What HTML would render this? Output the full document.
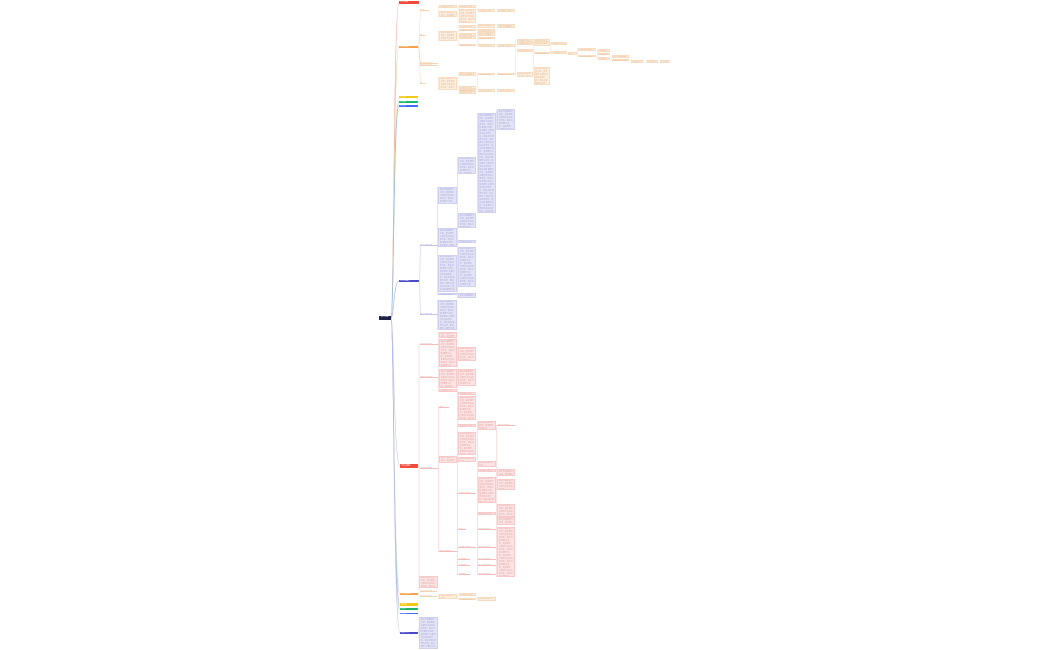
<!DOCTYPE html>
<html><head><meta charset="utf-8">
<style>
html,body{margin:0;padding:0;background:#fff;}
body{width:1050px;height:650px;position:relative;overflow:hidden;}
.b{position:absolute;overflow:hidden;font:2px/3px "Liberation Sans","Noto Sans CJK SC",sans-serif;padding:0.3px 0.6px;box-sizing:border-box;word-break:break-all;}
.o{background:#fdefe0;color:#dcb995;border:0.3px solid #f7dcc2;}
.p{background:#fde4e4;color:#e0a8a8;border:0.3px solid #f7c9c9;}
.l{background:#e4e4f7;color:#a9a9d8;border:0.3px solid #cfcff0;}
.to{color:#d8b896;border-bottom:0.5px solid #f6d3b0;background:none;}
.tp{color:#dca4a4;border-bottom:0.5px solid #f5baba;background:none;}
.tl{color:#a9a9d8;border-bottom:0.5px solid #c3c3ee;background:none;}
.n{position:absolute;font:2px/2px "Liberation Sans","Noto Sans CJK SC",sans-serif;color:#fff;overflow:hidden;box-sizing:border-box;padding:0.3px 1px;border-radius:0.5px;}
svg{position:absolute;left:0;top:0;}
</style></head><body>
<svg width="1050" height="650" viewBox="0 0 1050 650" fill="none" stroke-width="0.6">
<g>
<path d="M391,318 C394,318 393.5,2.5 399,2.5" stroke="#f3a59d"/>
<path d="M391,318 C394,318 393.5,46.8 399,46.8" stroke="#f6c99c"/>
<path d="M391,318 C394,318 393.5,97 399,97" stroke="#ecd97a"/>
<path d="M391,318 C394,318 393.5,101.7 399,101.7" stroke="#86d4ab"/>
<path d="M391,318 C394,318 393.5,106 399,106" stroke="#9fb6f3"/>
<path d="M391,318 C394,318 393.5,281 399,281" stroke="#a9a9e6"/>
<path d="M391,318 C394,318 393.5,466 400,466" stroke="#c9c9c9"/>
<path d="M391,318 C394,318 393.5,594 400,594" stroke="#c9c9c9"/>
<path d="M391,318 C394,318 393.5,604.5 400,604.5" stroke="#d0d0d0"/>
<path d="M391,318 C394,318 393.5,609 400,609" stroke="#a8d8bd"/>
<path d="M391,318 C394,318 393.5,613.6 400,613.6" stroke="#b0c4f4"/>
<path d="M391,318 C394,318 393.5,633 400,633" stroke="#b4b4e8"/>
</g>
<g stroke="#f8d8b8" stroke-width="0.5">
<path d="M418,46.8 C420,46.8 419.5,10 421,10.5"/>
<path d="M418,46.8 C420,46.8 419.5,35 421,35.5"/>
<path d="M418,46.8 C420,46.8 419.5,63 421,63.5"/>
<path d="M418,46.8 C420,46.8 419.5,65 421,65.5"/>
<path d="M418,46.8 C420,46.8 419.5,83 421,83.5"/>
<line x1="438.3" y1="6" x2="438.3" y2="17"/>
<line x1="438.3" y1="31" x2="438.3" y2="41"/>
<line x1="438.3" y1="77" x2="438.3" y2="90"/>
<line x1="458" y1="6" x2="458" y2="23"/>
<line x1="458" y1="25" x2="458" y2="45"/>
<line x1="458" y1="72" x2="458" y2="92"/>
<line x1="477.2" y1="9" x2="477.2" y2="11"/>
<line x1="477.2" y1="24" x2="477.2" y2="45"/>
<line x1="477.2" y1="73" x2="477.2" y2="90"/>
<line x1="515.8" y1="40" x2="515.8" y2="75"/>
<line x1="533.2" y1="40" x2="533.2" y2="76"/>
<line x1="550.5" y1="43" x2="550.5" y2="53"/>
<line x1="577.5" y1="49" x2="577.5" y2="56"/>
<line x1="597.2" y1="50" x2="597.2" y2="59"/>
<line x1="611.2" y1="57" x2="611.2" y2="60"/>
<line x1="495.5" y1="45" x2="516" y2="45"/>
<line x1="629.5" y1="60.5" x2="631" y2="60.5"/>
</g>
<g stroke="#c4c4ee" stroke-width="0.5">
<path d="M419,281 C420.5,281 419.5,246 421,246"/>
<path d="M419,281 C420.5,281 419.5,315 421,315"/>
<line x1="437.8" y1="187" x2="437.8" y2="295"/>
<line x1="437.8" y1="300" x2="437.8" y2="330"/>
<line x1="457.8" y1="157" x2="457.8" y2="298"/>
<line x1="477.2" y1="113" x2="477.2" y2="213"/>
<line x1="496.8" y1="110" x2="496.8" y2="130"/>
</g>
<g stroke="#f7c0c0" stroke-width="0.5">
<line x1="419" y1="344" x2="419" y2="590"/>
<line x1="418" y1="466" x2="419" y2="466"/>
<line x1="438.5" y1="332" x2="438.5" y2="392"/>
<line x1="438.5" y1="406" x2="438.5" y2="552"/>
<line x1="457.8" y1="347" x2="457.8" y2="575"/>
<line x1="477.2" y1="421" x2="477.2" y2="575"/>
<line x1="496.8" y1="425" x2="496.8" y2="577"/>
</g>
<g stroke="#f8d8b8" stroke-width="0.5">
<path d="M418,594 C419.5,594 419,591.5 421,591.8"/>
<path d="M418,594 C419.5,594 419,597 421,597.2"/>
<line x1="438.5" y1="594" x2="438.5" y2="599"/>
<line x1="458" y1="593.5" x2="458" y2="600"/>
<line x1="477.2" y1="597" x2="477.2" y2="601"/>
</g>
<path d="M418,633 C419.5,633 419,620 420,620" stroke="#c4c4ee" stroke-width="0.5"/>
</svg>

<div class="n" style="left:379.3px;top:315.7px;width:11.4px;height:4px;background:#1f2147;">中心主题</div>
<div class="n" style="left:399px;top:1px;width:20px;height:3px;background:#f04b3c;">分支主题一</div>
<div class="n" style="left:399px;top:45.7px;width:19px;height:2.3px;background:#f5a14c;">分支主题二</div>
<div class="n" style="left:399px;top:96px;width:19px;height:2.3px;background:#f2c81a;">分支三</div>
<div class="n" style="left:399px;top:100.7px;width:19px;height:2px;background:#1db36c;">分支四</div>
<div class="n" style="left:399px;top:105px;width:19px;height:2.2px;background:#3f6ff0;">分支五</div>
<div class="n" style="left:399px;top:279.7px;width:20px;height:2.6px;background:#4b4bc9;">分支主题六</div>
<div class="n" style="left:400px;top:464.3px;width:18px;height:3.4px;background:#f04b3c;">分支主题七</div>
<div class="n" style="left:400px;top:593px;width:18px;height:2.3px;background:#f5a14c;">分支主题八</div>
<div class="n" style="left:400px;top:603.3px;width:18px;height:2.3px;background:#f2c81a;">分支九</div>
<div class="n" style="left:400px;top:608px;width:18px;height:2px;background:#1db36c;">分支十</div>
<div class="n" style="left:400px;top:612.7px;width:18px;height:1.8px;background:#3f6ff0;">分支十一</div>
<div class="n" style="left:400px;top:631.7px;width:18px;height:2.5px;background:#4b4bc9;">分支十二</div>

<div class="b to" style="left:419.5px;top:8.5px;width:9px;height:2px;">要点一</div>
<div class="b to" style="left:419.5px;top:33.5px;width:5px;height:2px;">要点</div>
<div class="b to" style="left:419.5px;top:61.5px;width:18px;height:2px;">相关内容说明</div>
<div class="b to" style="left:419.5px;top:63.8px;width:18px;height:2px;">相关内容说明</div>
<div class="b to" style="left:419.5px;top:81.5px;width:5px;height:2px;">要点</div>
<div class="b o" style="left:439px;top:5px;width:18px;height:2px;">内容要点说明</div>
<div class="b o" style="left:439px;top:10.7px;width:18px;height:6px;">相关内容整理 与总结：基本概念 主要特点。</div>
<div class="b o" style="left:439px;top:30.7px;width:18px;height:10px;">相关内容整理与总结：基本概念 主要特点及其应用 相关内容整理与总结 基本概念</div>
<div class="b o" style="left:439px;top:76.7px;width:18px;height:13.3px;">相关内容整理与总结：基本概念 主要特点及其应用分析。相关内容 整理与总结：基本概念 主要特点及其 相关内容</div>
<div class="b o" style="left:458.5px;top:5.3px;width:17.5px;height:2px;">内容要点说明</div>
<div class="b o" style="left:458.5px;top:8.7px;width:17.5px;height:14px;">相关内容整理与总结：基本概念 主要特点及其应用分析。相关内容 整理与总结：基本概念 主要特点 应用分析。相关内容</div>
<div class="b o" style="left:458.5px;top:25px;width:17.5px;height:1.7px;">内容要点说明</div>
<div class="b o" style="left:458.5px;top:28.7px;width:17.5px;height:2.3px;">内容要点说明</div>
<div class="b o" style="left:458.5px;top:33.3px;width:17.5px;height:1.7px;">内容要点说明</div>
<div class="b o" style="left:458.5px;top:36px;width:17.5px;height:2.3px;">内容要点说明</div>
<div class="b o" style="left:458.5px;top:43.7px;width:17.5px;height:1.7px;">内容要点说明</div>
<div class="b o" style="left:458.5px;top:72.3px;width:17.5px;height:3.7px;">相关内容整理与总结</div>
<div class="b o" style="left:458.5px;top:86px;width:17.5px;height:1.5px;">内容要点说明</div>
<div class="b o" style="left:458.5px;top:88.7px;width:17.5px;height:1.5px;">内容要点说明</div>
<div class="b o" style="left:458.5px;top:91px;width:17.5px;height:1.7px;">内容要点说明</div>
<div class="b o" style="left:477.7px;top:9.3px;width:17.6px;height:1.4px;">内容要点说明</div>
<div class="b o" style="left:477.7px;top:24px;width:17.6px;height:4px;">相关内容整理与总结：基本</div>
<div class="b o" style="left:477.7px;top:29.3px;width:17.6px;height:1.7px;">内容要点说明</div>
<div class="b o" style="left:477.7px;top:32.3px;width:17.6px;height:3.7px;">相关内容整理与总结：基本</div>
<div class="b o" style="left:477.7px;top:36.7px;width:17.6px;height:1.6px;">内容要点说明</div>
<div class="b o" style="left:477.7px;top:44px;width:17.6px;height:1.3px;">内容要点说明</div>
<div class="b o" style="left:477.7px;top:72.7px;width:17.6px;height:2px;">内容要点说明</div>
<div class="b o" style="left:477.7px;top:89px;width:17.6px;height:1.3px;">内容要点说明</div>
<div class="b o" style="left:497.3px;top:9.3px;width:17.7px;height:1.4px;">内容要点说明</div>
<div class="b o" style="left:497.3px;top:24.3px;width:17.7px;height:3.4px;">相关内容整理与总结</div>
<div class="b o" style="left:497.3px;top:44px;width:17.7px;height:1.3px;">内容要点说明</div>
<div class="b o" style="left:497.3px;top:72.7px;width:17.7px;height:2px;">内容要点说明</div>
<div class="b o" style="left:497.3px;top:89px;width:17.7px;height:1.7px;">内容要点说明</div>
<div class="b o" style="left:516.7px;top:39.3px;width:16px;height:2px;">内容要点说明</div>
<div class="b o" style="left:516.7px;top:42.3px;width:16px;height:1.7px;">内容要点说明</div>
<div class="b o" style="left:516.7px;top:49.3px;width:16px;height:1.4px;">内容要点说明</div>
<div class="b o" style="left:516.7px;top:71.7px;width:16px;height:5px;">相关内容整理与总结：基本</div>
<div class="b o" style="left:533.7px;top:39px;width:16.3px;height:2px;">内容要点说明</div>
<div class="b o" style="left:533.7px;top:42px;width:16.3px;height:4px;">相关内容整理与总结</div>
<div class="b o" style="left:533.7px;top:51.7px;width:16.3px;height:2.3px;">内容要点说明</div>
<div class="b o" style="left:533.7px;top:66.7px;width:16.3px;height:18.3px;">相关内容整理与总结：基本概念 主要特点及其应用分析。相关内容 整理与总结：基本概念 主要特点及其应用分析。相关内容 整理与总结</div>
<div class="b o" style="left:551px;top:42px;width:15.7px;height:2.7px;">内容要点说明</div>
<div class="b o" style="left:551px;top:51.3px;width:15.7px;height:2.7px;">内容要点说明</div>
<div class="b o" style="left:567.7px;top:52px;width:9px;height:1.3px;">要点</div>
<div class="b o" style="left:578px;top:48.3px;width:17.7px;height:2.4px;">内容要点说明</div>
<div class="b o" style="left:578px;top:54.7px;width:17.7px;height:2px;">内容要点说明</div>
<div class="b o" style="left:597.7px;top:49.3px;width:12.3px;height:1.4px;">内容要点</div>
<div class="b o" style="left:597.7px;top:52.7px;width:12.3px;height:1.3px;">内容要点</div>
<div class="b o" style="left:597.7px;top:57.3px;width:12.3px;height:2px;">内容要点</div>
<div class="b o" style="left:611.7px;top:55.3px;width:17.6px;height:3px;">相关内容整理与总结</div>
<div class="b o" style="left:611.7px;top:58.7px;width:17.6px;height:2.6px;">相关内容整理与总结</div>
<div class="b o" style="left:631px;top:60px;width:12.3px;height:1.3px;">内容要点</div>
<div class="b o" style="left:646.7px;top:60px;width:11.6px;height:1.3px;">内容要点</div>
<div class="b o" style="left:660px;top:60px;width:10px;height:1.3px;">内容要点</div>

<div class="b tl" style="left:419.5px;top:244.3px;width:18.5px;height:2px;">相关内容说明</div>
<div class="b tl" style="left:419.5px;top:313.3px;width:18.5px;height:2px;">相关内容说明</div>
<div class="b l" style="left:438.3px;top:187.3px;width:19px;height:16.7px;">相关内容整理与总结：基本概念 主要特点及其应用分析。相关内容 整理与总结：基本概念 主要特点 相关内容整理与总结</div>
<div class="b l" style="left:438.3px;top:228.3px;width:19px;height:18.4px;">相关内容整理与总结：基本概念 主要特点及其应用分析。相关内容 整理与总结：基本概念 主要特点及其应用分析。相关内容</div>
<div class="b l" style="left:438.3px;top:255px;width:19px;height:36.7px;">相关内容整理与总结：基本概念 主要特点及其应用分析。相关内容 整理与总结：基本概念 主要特点及其应用分析。相关内容 整理与总结：基本概念 主要特点及其应用分析。相关内容 整理与总结：基本概念 主要特点及其应用分析。相关内容</div>
<div class="b l" style="left:438.3px;top:292.7px;width:19px;height:2.3px;">内容要点说明</div>
<div class="b l" style="left:438.3px;top:300px;width:19px;height:30px;">相关内容整理与总结：基本概念 主要特点及其应用分析。相关内容 整理与总结：基本概念 主要特点及其应用分析。相关内容 整理与总结：基本概念 主要特点及其应用分析。相关内容</div>
<div class="b l" style="left:458.3px;top:156.7px;width:17.7px;height:17.3px;">相关内容整理与总结：基本概念 主要特点及其应用分析。相关内容 整理与总结：基本概念 主要特点 相关内容</div>
<div class="b l" style="left:458.3px;top:213.3px;width:17.7px;height:15px;">相关内容整理与总结：基本概念 主要特点及其应用分析。相关内容 整理与总结：基本概念 主要特点</div>
<div class="b l" style="left:458.3px;top:240px;width:17.7px;height:2.7px;">内容要点说明</div>
<div class="b l" style="left:458.3px;top:246.7px;width:17.7px;height:40px;">相关内容整理与总结：基本概念 主要特点及其应用分析。相关内容 整理与总结：基本概念 主要特点及其应用分析。相关内容 整理与总结：基本概念 主要特点及其应用分析。相关内容 整理与总结：基本概念 主要特点及其应用分析。相关内容 整理与总结：基本概念</div>
<div class="b l" style="left:458.3px;top:293.3px;width:17.7px;height:5px;">相关内容整理与总结：基本</div>
<div class="b l" style="left:477.7px;top:113.3px;width:18px;height:100px;">相关内容整理与总结：基本概念 主要特点及其应用分析。相关内容 整理与总结：基本概念 主要特点及其应用分析。相关内容 整理与总结：基本概念 主要特点及其应用分析。相关内容 整理与总结：基本概念 主要特点及其应用分析。相关内容 整理与总结：基本概念 主要特点及其应用分析。相关内容 整理与总结：基本概念 主要特点及其应用分析。相关内容 整理与总结：基本概念 主要特点及其应用分析。相关内容 整理与总结：基本概念 主要特点及其应用分析。相关内容 整理与总结：基本概念 主要特点及其应用分析。相关内容 整理与总结：基本概念 主要特点及其应用分析。相关内容 整理与总结：基本概念 主要特点及其应用分析。</div>
<div class="b l" style="left:497.3px;top:109.3px;width:17.7px;height:20.7px;">相关内容整理与总结：基本概念 主要特点及其应用分析。相关内容 整理与总结：基本概念 主要特点及其应用分析。相关内容</div>

<div class="b tp" style="left:419.5px;top:342.5px;width:18px;height:2px;">相关内容说明</div>
<div class="b tp" style="left:419.5px;top:375.5px;width:18px;height:2px;">相关内容说明</div>
<div class="b tp" style="left:419.5px;top:466.8px;width:18px;height:2px;">相关内容说明</div>
<div class="b p" style="left:419.3px;top:575.7px;width:18.4px;height:12.6px;">相关内容整理与总结：基本概念 主要特点及其应用分析。相关内容 整理与总结</div>
<div class="b p" style="left:439px;top:331.7px;width:17.7px;height:6.6px;">相关内容整理与总结：基本概念</div>
<div class="b p" style="left:439px;top:339.3px;width:17.7px;height:28px;">相关内容整理与总结：基本概念 主要特点及其应用分析。相关内容 整理与总结：基本概念 主要特点及其应用分析。相关内容 整理与总结：基本概念 主要特点及其应用分析。</div>
<div class="b p" style="left:439px;top:369.3px;width:17.7px;height:19px;">相关内容整理与总结：基本概念 主要特点及其应用分析。相关内容 整理与总结：基本概念 主要特点 相关内容整理与总结</div>
<div class="b p" style="left:439px;top:389.3px;width:17.7px;height:2.4px;">内容要点说明</div>
<div class="b tp" style="left:439px;top:405.5px;width:10px;height:2px;">要点</div>
<div class="b p" style="left:439px;top:456px;width:17.7px;height:7.3px;">相关内容整理与总结：基本概念 主要</div>
<div class="b tp" style="left:439px;top:549.5px;width:17.7px;height:2px;">相关内容说明</div>
<div class="b p" style="left:458.3px;top:346.7px;width:17.7px;height:14.3px;">相关内容整理与总结：基本概念 主要特点及其应用分析。相关内容 整理与总结：基本概念</div>
<div class="b p" style="left:458.3px;top:369.3px;width:17.7px;height:16.7px;">相关内容整理与总结：基本概念 主要特点及其应用分析。相关内容 整理与总结：基本概念 主要特点</div>
<div class="b p" style="left:458.3px;top:392.3px;width:17.7px;height:2px;">内容要点说明</div>
<div class="b p" style="left:458.3px;top:395.7px;width:17.7px;height:24.3px;">相关内容整理与总结：基本概念 主要特点及其应用分析。相关内容 整理与总结：基本概念 主要特点及其应用分析。相关内容 整理与总结</div>
<div class="b p" style="left:458.3px;top:424.3px;width:17.7px;height:2.4px;">内容要点说明</div>
<div class="b p" style="left:458.3px;top:431.7px;width:17.7px;height:23.3px;">相关内容整理与总结：基本概念 主要特点及其应用分析。相关内容 整理与总结：基本概念 主要特点及其应用分析。相关内容 整理与总结</div>
<div class="b p" style="left:458.3px;top:456.7px;width:17.7px;height:5px;">相关内容整理与总结</div>
<div class="b tp" style="left:458.3px;top:491.7px;width:17.7px;height:2px;">内容要点说明</div>
<div class="b tp" style="left:458.3px;top:527.7px;width:8px;height:2px;">要点</div>
<div class="b tp" style="left:458.3px;top:545.9px;width:17.7px;height:2px;">内容要点说明</div>
<div class="b tp" style="left:458.3px;top:558.4px;width:12px;height:2px;">内容要点</div>
<div class="b tp" style="left:458.3px;top:564.4px;width:12px;height:2px;">内容要点</div>
<div class="b tp" style="left:458.3px;top:573.4px;width:12px;height:2px;">内容要点</div>
<div class="b p" style="left:477.7px;top:420.7px;width:18px;height:9.3px;">相关内容整理与总结：基本概念 主要特点</div>
<div class="b p" style="left:477.7px;top:461px;width:18px;height:5.7px;">相关内容整理与总结</div>
<div class="b p" style="left:477.7px;top:469.3px;width:18px;height:2.4px;">内容要点说明</div>
<div class="b p" style="left:477.7px;top:476.7px;width:18px;height:26.6px;">相关内容整理与总结：基本概念 主要特点及其应用分析。相关内容 整理与总结：基本概念 主要特点及其应用分析。相关内容 整理与总结：基本概念</div>
<div class="b p" style="left:477.7px;top:511.7px;width:18px;height:3.3px;">内容要点说明</div>
<div class="b tp" style="left:477.7px;top:527.7px;width:18px;height:2px;">相关内容说明</div>
<div class="b tp" style="left:477.7px;top:545.9px;width:18px;height:2px;">相关内容说明</div>
<div class="b tp" style="left:477.7px;top:558.4px;width:18px;height:2px;">相关内容说明</div>
<div class="b tp" style="left:477.7px;top:564.4px;width:18px;height:2px;">相关内容说明</div>
<div class="b tp" style="left:477.7px;top:573.4px;width:18px;height:2px;">相关内容说明</div>
<div class="b tp" style="left:497.3px;top:424px;width:17.7px;height:2.2px;">相关内容说明</div>
<div class="b p" style="left:497.3px;top:469.3px;width:17.7px;height:6.7px;">相关内容整理与总结：基本概念</div>
<div class="b p" style="left:497.3px;top:479px;width:17.7px;height:11px;">相关内容整理与总结：基本概念 主要特点及其应用分析。</div>
<div class="b p" style="left:497.3px;top:504px;width:17.7px;height:12.7px;">相关内容整理与总结：基本概念 主要特点及其应用分析。相关内容</div>
<div class="b p" style="left:497.3px;top:517.3px;width:17.7px;height:7.7px;">相关内容整理与总结：基本概念</div>
<div class="b p" style="left:497.3px;top:526.7px;width:17.7px;height:50px;">相关内容整理与总结：基本概念 主要特点及其应用分析。相关内容 整理与总结：基本概念 主要特点及其应用分析。相关内容 整理与总结：基本概念 主要特点及其应用分析。相关内容 整理与总结：基本概念 主要特点及其应用分析。相关内容 整理与总结：基本概念 主要特点及其应用分析。</div>

<div class="b to" style="left:419.5px;top:589.8px;width:17.5px;height:2px;">相关内容说明</div>
<div class="b to" style="left:419.5px;top:595.2px;width:17.5px;height:2px;">相关内容说明</div>
<div class="b o" style="left:439.3px;top:594px;width:18px;height:5px;">相关内容整理与总结</div>
<div class="b o" style="left:458.7px;top:593.3px;width:17.3px;height:2px;">内容要点说明</div>
<div class="b o" style="left:458.7px;top:597.7px;width:17.3px;height:2.6px;">内容要点说明</div>
<div class="b o" style="left:477.7px;top:596.7px;width:18px;height:4.3px;">相关内容整理与总结</div>

<div class="b l" style="left:419.3px;top:617.3px;width:18.4px;height:32px;">相关内容整理与总结：基本概念 主要特点及其应用分析。相关内容 整理与总结：基本概念 主要特点及其应用分析。相关内容 整理与总结：基本概念 主要特点及其应用分析。</div>
</body></html>
